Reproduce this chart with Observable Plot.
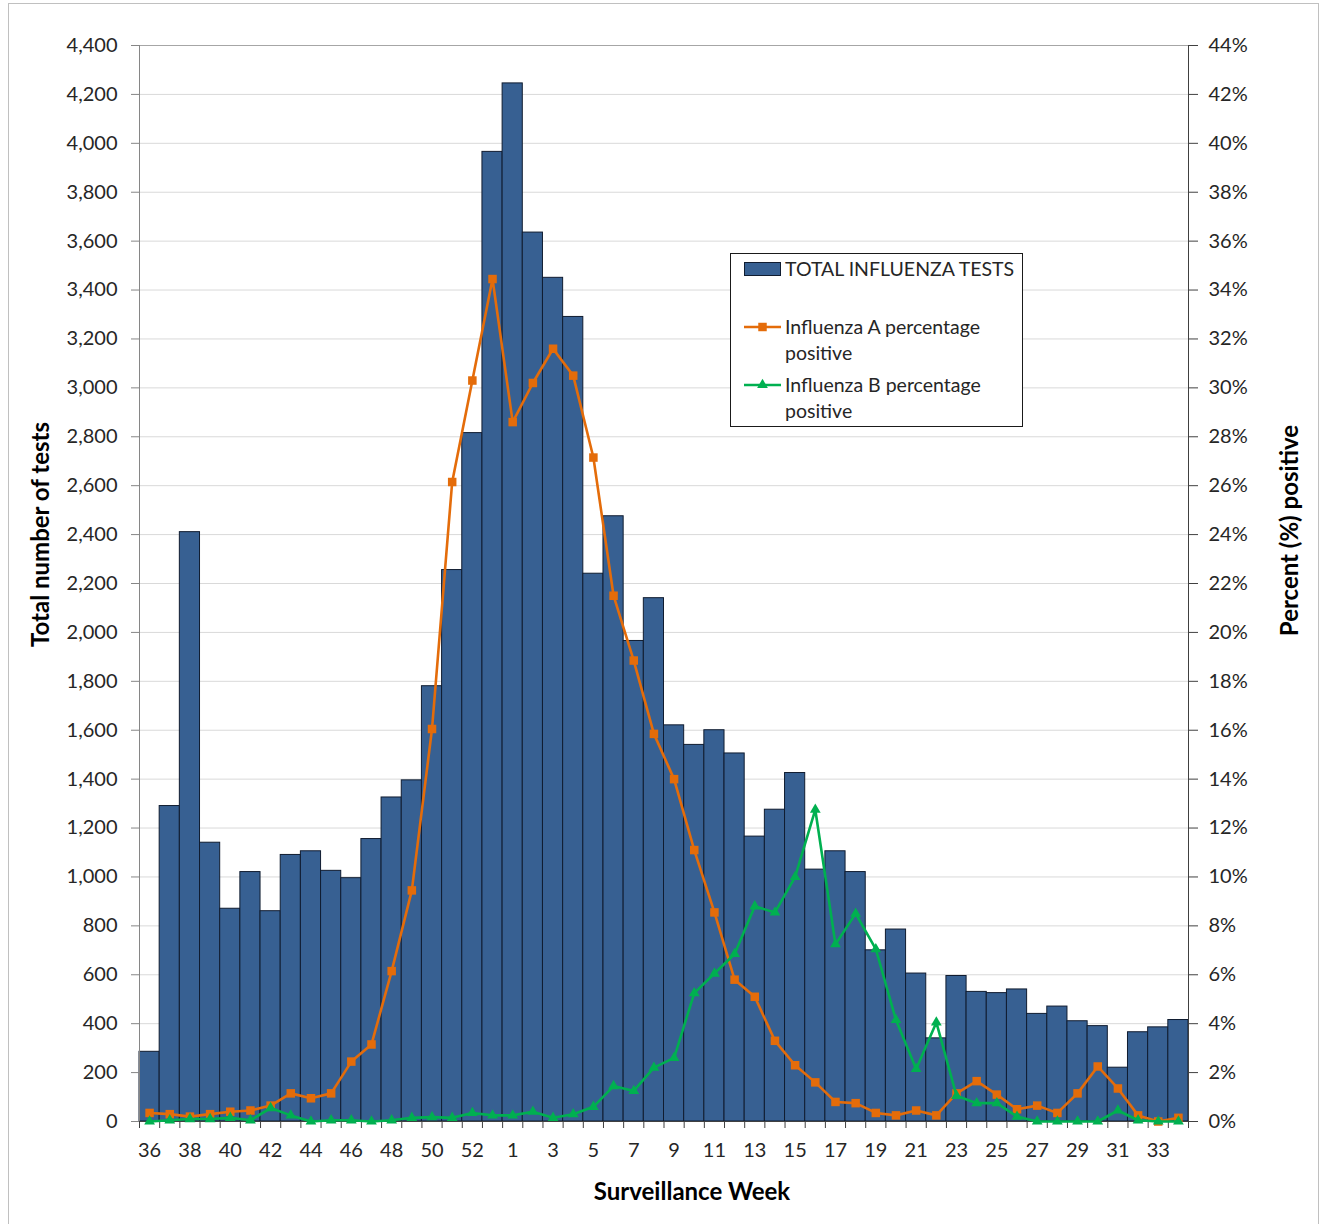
<!DOCTYPE html>
<html>
<head>
<meta charset="utf-8">
<script src="https://cdn.jsdelivr.net/npm/d3@7"></script>
<script src="https://cdn.jsdelivr.net/npm/@observablehq/plot@0.6"></script>
<style>
  html, body { margin: 0; padding: 0; background: #fff; overflow: hidden; }
  #wrap { position: relative; width: 1322px; height: 1224px; font-family: Lato, "Open Sans", sans-serif; }
  #border { position: absolute; left: 8px; top: 3px; width: 1311px; height: 1240px; border: 1px solid #c0c0c0; box-sizing: border-box; }
  #chart { position: absolute; left: 0; top: 0; }
  #legend { position: absolute; left: 730px; top: 253px; width: 293px; height: 174px; border: 1px solid #1a1a1a; box-sizing: border-box; background: #fff; }
  .li { position: absolute; left: 0; }
  .li svg { position: absolute; left: 13px; }
  .li .t { position: absolute; left: 54px; font-size: 19.5px; color: #262626; line-height: 26px; white-space: nowrap; }
</style>
</head>
<body>
<div id="wrap">
  <div id="border"></div>
  <div id="chart"></div>
  <div id="legend"></div>
</div>
<script>
// Surveillance weeks, from week 36 through week 53 and on to week 34 of the next year
const weeks = [36, 37, 38, 39, 40, 41, 42, 43, 44, 45, 46, 47, 48, 49, 50, 51, 52, 53,
  1, 2, 3, 4, 5, 6, 7, 8, 9, 10, 11, 12, 13, 14, 15, 16, 17, 18, 19, 20, 21, 22, 23, 24, 25, 26, 27, 28, 29, 30, 31, 32, 33, 34];

// Total influenza tests per week
const totalTests = [285, 1290, 2410, 1140, 870, 1020, 860, 1090, 1105, 1025, 995, 1155, 1325, 1395, 1780, 2255, 2815, 3965,
  4245, 3635, 3450, 3290, 2240, 2475, 1965, 2140, 1620, 1540, 1600, 1505, 1165, 1275, 1425, 1030, 1105, 1020, 700, 785, 605, 340,
  595, 530, 525, 540, 440, 470, 410, 390, 220, 365, 385, 415];

// Influenza A percentage positive
const fluA = [0.35, 0.3, 0.2, 0.3, 0.4, 0.45, 0.65, 1.15, 0.95, 1.15, 2.45, 3.15, 6.15, 9.45, 16.05, 26.15, 30.3, 34.45,
  28.6, 30.2, 31.6, 30.5, 27.15, 21.5, 18.85, 15.85, 14.0, 11.1, 8.55, 5.8, 5.1, 3.3, 2.3, 1.6, 0.8, 0.75, 0.35, 0.25, 0.45, 0.25,
  1.15, 1.65, 1.1, 0.5, 0.65, 0.35, 1.15, 2.25, 1.35, 0.25, 0.0, 0.15];

// Influenza B percentage positive
const fluB = [0.0, 0.05, 0.1, 0.1, 0.15, 0.05, 0.55, 0.25, 0.0, 0.05, 0.05, 0.0, 0.05, 0.15, 0.18, 0.15, 0.35, 0.25,
  0.25, 0.4, 0.15, 0.3, 0.6, 1.45, 1.25, 2.2, 2.6, 5.25, 6.05, 6.85, 8.8, 8.55, 10.0, 12.75, 7.25, 8.5, 7.05, 4.15, 2.15, 4.05,
  1.05, 0.75, 0.75, 0.2, 0.0, 0.0, 0.0, 0.0, 0.45, 0.05, 0.0, 0.0];

// Axis ticks: counts on the left, percentages on the right (44% shares the top with 4,400)
const countTicks = [0, 200, 400, 600, 800, 1000, 1200, 1400, 1600, 1800, 2000, 2200, 2400, 2600, 2800, 3000, 3200, 3400, 3600, 3800, 4000, 4200, 4400];
const percentTicks = [0, 2, 4, 6, 8, 10, 12, 14, 16, 18, 20, 22, 24, 26, 28, 30, 32, 34, 36, 38, 40, 42, 44];

const countMax = 4400;
const percentMax = 44;
const pctScale = countMax / percentMax; // percent -> count-axis units

const blue = "#376092";
const orange = "#e46c0a";
const green = "#00b050";

const rows = weeks.map((w, i) => ({i, week: w, total: totalTests[i], a: fluA[i], b: fluB[i]}));
const boundaries = d3.range(0, weeks.length + 1);
const labelled = rows.filter(d => d.i % 2 === 0);

const chart = Plot.plot({
  width: 1322,
  height: 1224,
  marginLeft: 139,
  marginRight: 134,
  marginTop: 45,
  marginBottom: 103,
  x: {type: "linear", domain: [0, weeks.length], axis: null},
  y: {domain: [0, countMax], axis: null},
  style: {fontFamily: "Lato, 'Open Sans', sans-serif", fontSize: "20px", color: "#262626", background: "transparent"},
  marks: [
    Plot.gridY(countTicks.slice(0, -1), {stroke: "#d9d9d9", strokeOpacity: 1}),
    Plot.ruleY([countMax], {stroke: "#a6a6a6"}),
    Plot.rect(rows, {x1: "i", x2: d => d.i + 1, y1: 0, y2: "total", fill: blue, stroke: "#101c30", strokeWidth: 1}),
    // left axis (counts)
    Plot.ruleX([0], {stroke: "#868686"}),
    Plot.axisY(countTicks, {anchor: "left", tickSize: 8, tickPadding: 14, stroke: "#868686",
      tickFormat: d3.format(","), label: null, fill: "#262626"}),
    // right axis (percent positive)
    Plot.ruleX([weeks.length], {stroke: "#404040"}),
    Plot.axisY(percentTicks.map(p => p * pctScale), {anchor: "right", tickSize: 9, tickPadding: 11, stroke: "#404040",
      tickFormat: v => Math.round(v / pctScale) + "%", label: null, fill: "#262626"}),
    // bottom axis
    Plot.ruleY([0], {stroke: "#404040"}),
    Plot.axisX(boundaries, {anchor: "bottom", tickSize: 7, stroke: "#404040", tickFormat: () => "", label: null}),
    Plot.text(labelled, {x: d => d.i + 0.5, frameAnchor: "bottom", lineAnchor: "middle", text: d => String(d.week),
      dy: 29, fill: "#262626"}),
    // Influenza A
    Plot.line(rows, {x: d => d.i + 0.5, y: d => d.a * pctScale, stroke: orange, strokeWidth: 2.6}),
    Plot.dot(rows, {x: d => d.i + 0.5, y: d => d.a * pctScale, symbol: "square", r: 4.8, fill: orange, stroke: "none"}),
    // Influenza B
    Plot.line(rows, {x: d => d.i + 0.5, y: d => d.b * pctScale, stroke: green, strokeWidth: 2.6}),
    Plot.dot(rows, {x: d => d.i + 0.5, y: d => d.b * pctScale, symbol: "triangle", r: 4, fill: green, stroke: "none"}),
    // axis titles
    Plot.text(["Total number of tests"], {frameAnchor: "left", textAnchor: "middle", lineAnchor: "middle", rotate: -90,
      dx: -98, dy: -49, fontWeight: "bold", fontSize: 24, fill: "#000"}),
    Plot.text(["Percent (%) positive"], {frameAnchor: "right", textAnchor: "middle", lineAnchor: "middle", rotate: -90,
      dx: 102, dy: -53, fontWeight: "bold", fontSize: 24, fill: "#000"}),
    Plot.text(["Surveillance Week"], {frameAnchor: "bottom", textAnchor: "middle", lineAnchor: "middle",
      dx: 28, dy: 71, fontWeight: "bold", fontSize: 24, fill: "#000"})
  ]
});
document.getElementById("chart").appendChild(chart);

// Legend
const legendItems = [
  {kind: "bar", color: blue, lines: ["TOTAL INFLUENZA TESTS"], top: 2},
  {kind: "square", color: orange, lines: ["Influenza A percentage", "positive"], top: 60},
  {kind: "triangle", color: green, lines: ["Influenza B percentage", "positive"], top: 118}
];
const legend = d3.select("#legend");
for (const item of legendItems) {
  const li = legend.append("div").attr("class", "li").style("top", item.top + "px");
  const svg = li.append("svg").attr("width", 38).attr("height", 26).style("top", "0px");
  if (item.kind === "bar") {
    svg.append("rect").attr("x", 0.5).attr("y", 6.5).attr("width", 36).attr("height", 13)
      .attr("fill", item.color).attr("stroke", "#101c30");
  } else {
    svg.append("line").attr("x1", 0).attr("x2", 37).attr("y1", 13).attr("y2", 13)
      .attr("stroke", item.color).attr("stroke-width", 2.6);
    svg.append("path")
      .attr("transform", "translate(18.5,13)")
      .attr("d", d3.symbol(item.kind === "square" ? d3.symbolSquare : d3.symbolTriangle, item.kind === "square" ? 72 : 50)())
      .attr("fill", item.color);
  }
  li.append("div").attr("class", "t").html(item.lines.join("<br>"));
}
</script>
</body>
</html>
